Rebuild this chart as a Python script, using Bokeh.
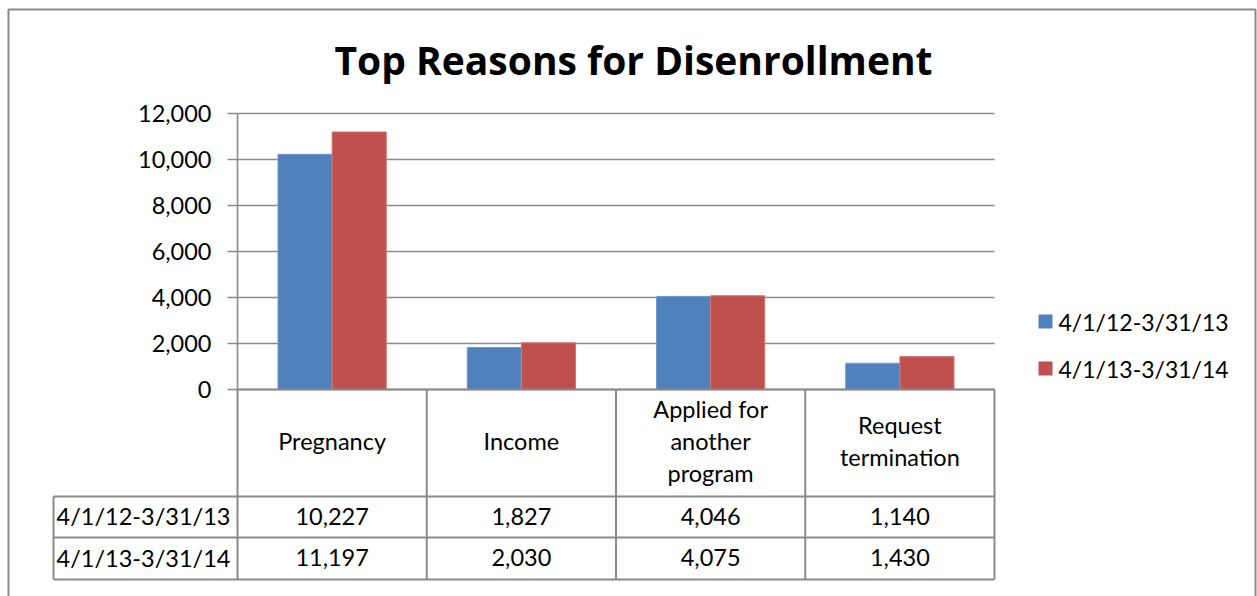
from bokeh.plotting import figure
from bokeh.models import Range1d
from bokeh.core.properties import value
from bokeh.embed import file_html
from bokeh.resources import INLINE

# ---------------- data ----------------
chart_title = "Top Reasons for Disenrollment"
categories = ["Pregnancy", "Income", "Applied for another program", "Request termination"]
category_lines = [["Pregnancy"], ["Income"], ["Applied for", "another", "program"], ["Request", "termination"]]
series_names = ["4/1/12-3/31/13", "4/1/13-3/31/14"]
values_2012_13 = [10227, 1827, 4046, 1140]
values_2013_14 = [11197, 2030, 4075, 1430]
y_ticks = [0, 2000, 4000, 6000, 8000, 10000, 12000]
y_tick_labels = ["0", "2,000", "4,000", "6,000", "8,000", "10,000", "12,000"]
series_colors = ["#4F81BD", "#C0504D"]
series_edges = ["#6F97CB", "#D27773"]

# ---------------- layout ----------------
W, H = 1257, 596
PX0, PX1 = 237, 994          # plot area left/right (px)
PY0, PYT = 389, 113          # y of value 0 and of top tick (px)
YMAX = y_ticks[-1]
NC = len(categories)
cw = (PX1 - PX0) / NC
k = (PY0 - PYT) / YMAX
FONT = "Lato"
FS = "23.5px"
GRAY = "#8a8a8a"

p = figure(width=W, height=H, min_border=0, x_axis_location=None, y_axis_location=None,
           toolbar_location=None, output_backend="svg",
           x_range=Range1d(0, W), y_range=Range1d(H, 0))
p.extra_x_ranges = {"cat": Range1d(-PX0 / cw, NC + (W - PX1) / cw)}
p.extra_y_ranges = {"val": Range1d(-(H - PY0) / k, PY0 / k)}
p.outline_line_color = None
p.grid.visible = False
p.background_fill_color = "white"
p.border_fill_color = "white"

# outer chart border
p.line(x=[8, 8, 1255, 1255], y=[H + 5, 9, 9, H + 5], line_color=GRAY, line_width=2)

# gridlines
p.segment(x0=[0] * len(y_ticks), x1=[NC] * len(y_ticks), y0=y_ticks, y1=y_ticks,
          x_range_name="cat", y_range_name="val", line_color=GRAY, line_width=1.6)
# tick marks
p.segment(x0=[PX0 - 10] * len(y_ticks), x1=[PX0] * len(y_ticks), y0=y_ticks, y1=y_ticks,
          y_range_name="val", line_color=GRAY, line_width=1.6)
# y axis line
p.segment(x0=[PX0], x1=[PX0], y0=[0], y1=[YMAX], y_range_name="val", line_color=GRAY, line_width=1.6)
# tick labels
p.text(x=[PX0 - 26] * len(y_ticks), y=y_ticks, text=y_tick_labels, y_range_name="val",
       text_align="right", text_baseline="middle", text_font=value(FONT),
       text_font_size=FS, text_color="black")

# bars
idx = list(range(NC))
off = 0.143
bw = 0.286
for s, (vals, col, edge) in enumerate(zip([values_2012_13, values_2013_14], series_colors, series_edges)):
    xs = [i + 0.5 + (2 * s - 1) * off for i in idx]
    p.vbar(x=xs, top=vals, bottom=0, width=bw, x_range_name="cat", y_range_name="val",
           fill_color=col, line_color=edge, line_width=1)

# data table grid lines
ROW_TOP, ROW1, ROW2, ROW3 = PY0, 496, 537, 579
TBL_LEFT = 53
p.segment(x0=list(range(NC + 1)), x1=list(range(NC + 1)), y0=[ROW_TOP] * (NC + 1), y1=[ROW3] * (NC + 1),
          x_range_name="cat", line_color=GRAY, line_width=2)
p.segment(x0=[TBL_LEFT], x1=[TBL_LEFT], y0=[ROW1], y1=[ROW3], line_color=GRAY, line_width=2)
p.segment(x0=[TBL_LEFT] * 3, x1=[PX1] * 3, y0=[ROW1, ROW2, ROW3], y1=[ROW1, ROW2, ROW3],
          line_color=GRAY, line_width=2)
p.segment(x0=[PX0], x1=[PX1], y0=[ROW_TOP], y1=[ROW_TOP], line_color=GRAY, line_width=2)

# category labels in table
LH = 32
cx, cy, ct = [], [], []
mid = (ROW_TOP + ROW1) / 2 - 2
for i, lines in enumerate(category_lines):
    n = len(lines)
    for j, ln in enumerate(lines):
        cx.append(i + 0.5)
        cy.append(mid + (j - (n - 1) / 2) * LH)
        ct.append(ln)
p.text(x=cx, y=cy, text=ct, x_range_name="cat", text_align="center", text_baseline="middle",
       text_font=value(FONT), text_font_size=FS, text_color="black")

# table values
for r, (vals, name) in enumerate(zip([values_2012_13, values_2013_14], series_names)):
    yc = (ROW1 + ROW2) / 2 if r == 0 else (ROW2 + ROW3) / 2
    p.text(x=[i + 0.5 for i in idx], y=[yc - 1] * NC, text=[f"{v:,}" for v in vals], x_range_name="cat",
           text_align="center", text_baseline="middle", text_font=value(FONT),
           text_font_size=FS, text_color="black")
    p.text(x=[(TBL_LEFT + PX0) / 2 - 2], y=[yc - 1], text=[name], text_align="center", text_baseline="middle",
           text_font=value(FONT), text_font_size=FS, text_color="black")

# legend
leg_y = [321, 368]
p.rect(x=[1045, 1045], y=leg_y, width=14, height=14, fill_color=series_colors, line_color=None)
p.text(x=[1058, 1058], y=leg_y, text=series_names, text_align="left", text_baseline="middle",
       text_font=value(FONT), text_font_size="23px", text_color="black")

# title
p.text(x=[633], y=[59], text=[chart_title], text_align="center", text_baseline="middle",
       text_font=value("Open Sans"), text_font_style="bold", text_font_size="39px", text_color="black")

open("out.html", "w").write(file_html(p, INLINE))
